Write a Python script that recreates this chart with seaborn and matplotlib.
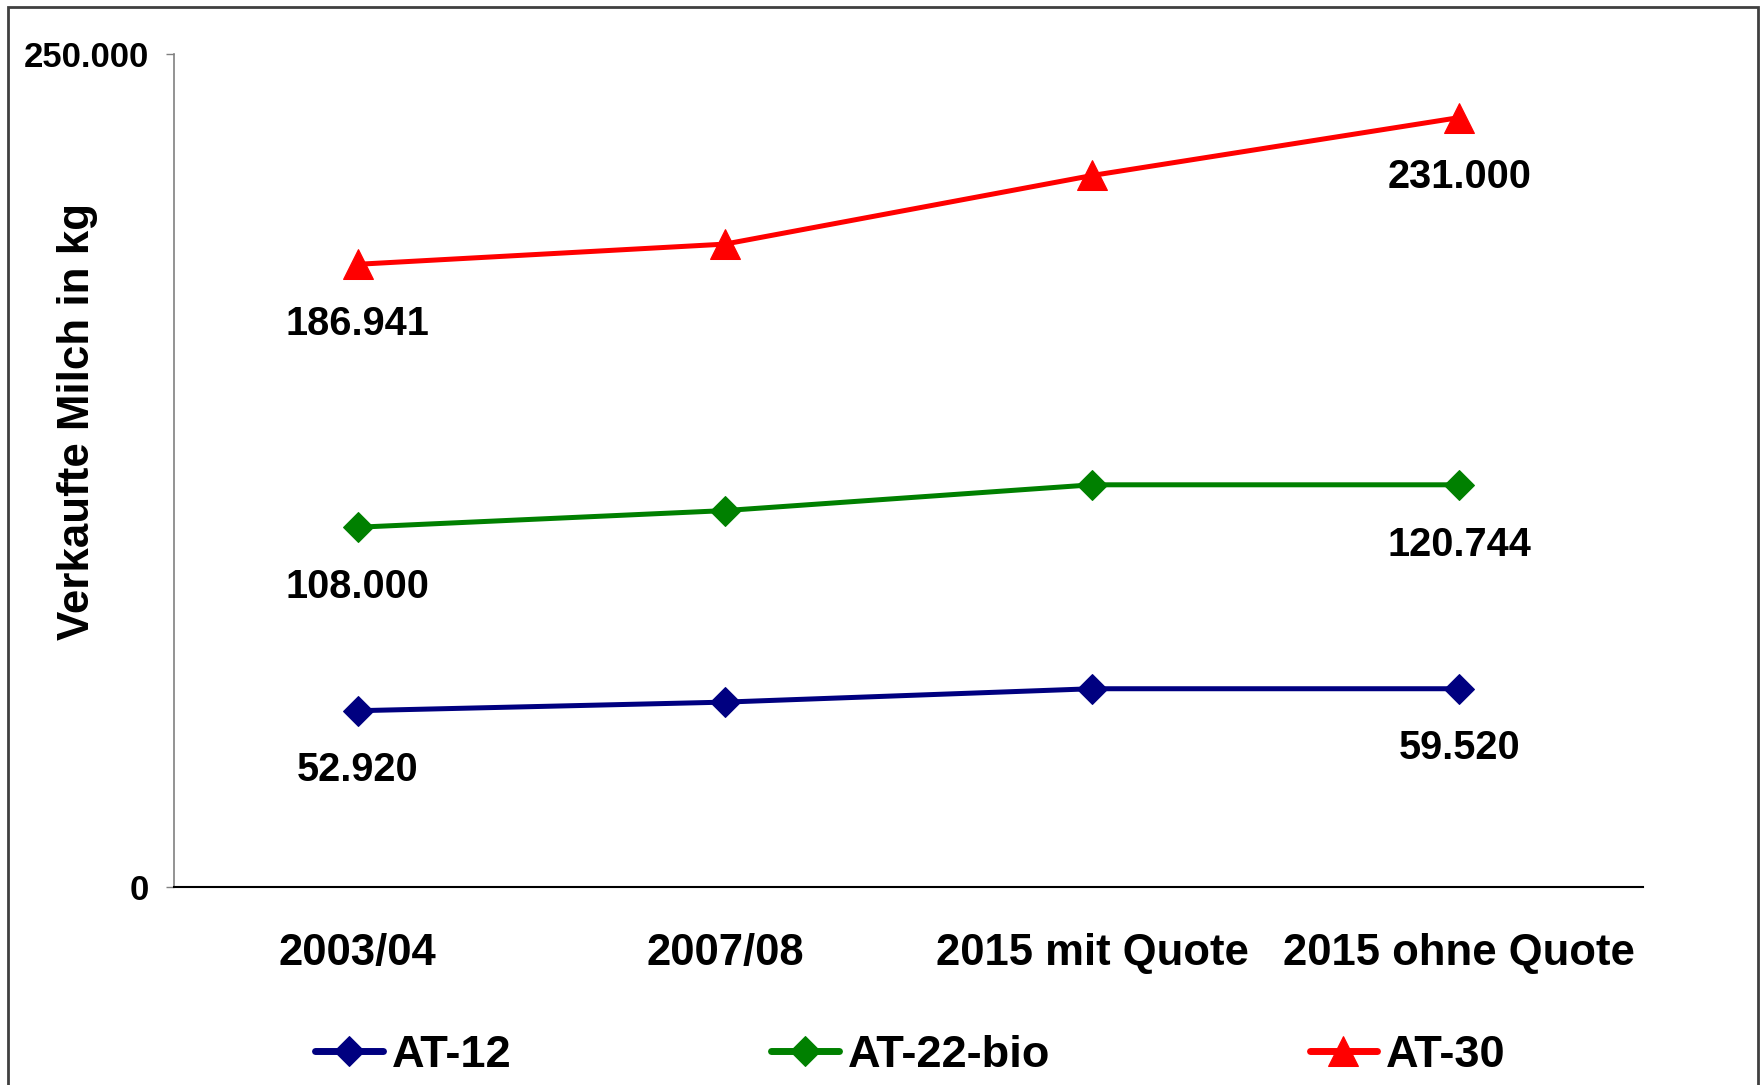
import numpy as np
import pandas as pd
import matplotlib
matplotlib.use("Agg")
import matplotlib.pyplot as plt
import matplotlib.patches as patches
from matplotlib.ticker import FuncFormatter, FixedLocator
import seaborn as sns

# ~~~ data ~~~
categories = ["2003/04", "2007/08", "2015 mit Quote", "2015 ohne Quote"]
at12 = [52920, 55500, 59520, 59520]
at22bio = [108000, 113000, 120744, 120744]
at30 = [186941, 193000, 213600, 231000]
series_names = ["AT-12", "AT-22-bio", "AT-30"]
series_values = [at12, at22bio, at30]
series_colors = ["#000080", "#008000", "#FF0000"]
series_markers = ["D", "D", "^"]
y_ticks = [0, 250000]

sns.set_style("white")
plt.rcParams["font.family"] = ["Liberation Sans", "DejaVu Sans"]
plt.rcParams["font.weight"] = "bold"
plt.rcParams["text.color"] = "black"
plt.rcParams["xtick.color"] = "black"
plt.rcParams["ytick.color"] = "black"
plt.rcParams["axes.labelcolor"] = "black"


def de_fmt(v, pos=None):
    return f"{v:,.0f}".replace(",", ".")


fig = plt.figure(figsize=(17.61, 10.85), dpi=100)
ax = fig.add_axes([0.0988, 0.1825, 0.9330 - 0.0988, 0.950 - 0.1825])

rows = []
for name, vals in zip(series_names, series_values):
    for c, v in zip(categories, vals):
        rows.append({"Jahr": c, "Milch": v, "Betrieb": name})
df = pd.DataFrame(rows)

for name, col, mk in zip(series_names, series_colors, series_markers):
    sub = df[df["Betrieb"] == name]
    ms = 15 if mk == "D" else 22
    sns.lineplot(data=sub, x="Jahr", y="Milch", ax=ax, color=col, marker=mk,
                 markersize=ms, markeredgecolor=col, linewidth=3.6, label=name,
                 sort=False)
    # labels only at first and last point
    for i in [0, len(categories) - 1]:
        v = sub["Milch"].iloc[i]
        ax.annotate(de_fmt(v), xy=(i, v), xytext=(0, -43), textcoords="offset points",
                    ha="center", va="center", fontsize=28.6, fontweight="bold",
                    color="black")

ax.set_xlim(-0.5, len(categories) - 0.5)
ax.set_ylim(0, 250000)
ax.set_yticks(y_ticks)
ax.yaxis.set_major_formatter(FuncFormatter(de_fmt))
ax.set_xticks(range(len(categories)))
ax.set_xticklabels(categories)
ax.xaxis.set_minor_locator(FixedLocator(np.arange(-0.5, len(categories), 1.0)))
ax.tick_params(axis="x", which="major", length=0, pad=33, labelsize=31.4)
ax.tick_params(axis="x", which="minor", length=8, width=1, color="black", direction="out")
ax.tick_params(axis="y", which="major", length=6, width=1, color="#808080",
               direction="out", pad=12, labelsize=25, left=True, labelcolor="black")
for lab in ax.get_xticklabels() + ax.get_yticklabels():
    lab.set_fontweight("bold")

for s in ["top", "right"]:
    ax.spines[s].set_visible(False)
ax.spines["left"].set_color("#808080")
ax.spines["left"].set_linewidth(1.2)
ax.spines["bottom"].set_color("black")
ax.spines["bottom"].set_linewidth(1.5)

ax.set_xlabel("")
ax.set_ylabel("Verkaufte Milch in kg", fontsize=31.6, fontweight="bold")
ax.yaxis.set_label_coords(-0.052, 0.559)

ax.get_legend().remove()
handles, labels = ax.get_legend_handles_labels()
leg = fig.legend(handles, labels, loc="center", bbox_to_anchor=(0.517, 0.027),
                 bbox_transform=fig.transFigure, ncol=3, frameon=False,
                 prop={"size": 32.5, "weight": "bold"}, handlelength=1.5,
                 handletextpad=0.2, columnspacing=5.75)
for h in leg.get_lines():
    h.set_linewidth(5)
    h.set_solid_capstyle("round")

# outer chart border
fig.patches.append(patches.Rectangle((8 / 1761, -0.05), (1758 - 8) / 1761, 1 - 7 / 1085 + 0.05,
                                     transform=fig.transFigure, fill=False,
                                     edgecolor="#404040", linewidth=2))

fig.savefig("out.png", dpi=100)
